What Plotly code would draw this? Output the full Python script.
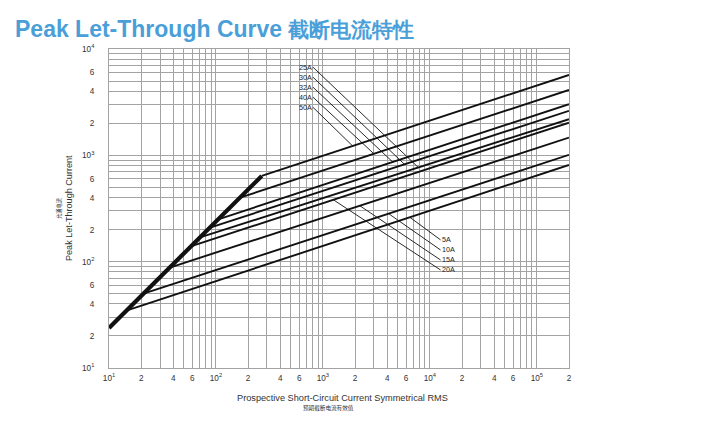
import math
import plotly.graph_objects as go

# ---------------- data ----------------
ratings = ["5A", "10A", "15A", "20A", "25A", "30A", "32A", "40A", "50A"]
# point where each branch leaves the common (thick) curve
branch_start_x = [15, 21, 37, 59, 71, 88, 105, 168, 268]
branch_start_y = [35, 50, 88, 140, 169, 209, 250, 400, 640]
# value at the right end of the chart (2x10^5 A)
branch_end_x = [2e5] * 9
branch_end_y = [813, 1010, 1470, 2030, 2190, 2620, 3030, 4120, 5700]

# common envelope (thick line)
envelope_x = [10, 268]
envelope_y = [23.8, 640]

# x value where each label's leader line touches its curve
leader_target_x = [6500, 4120, 2210, 1250, 7800, 5800, 4500, 3000, 1900]

# label anchor positions (log10 units)
top_labels = ["25A", "30A", "32A", "40A", "50A"]
top_label_logx = 2.907
top_label_logy = [3.829, 3.735, 3.641, 3.547, 3.452]
bottom_labels = ["5A", "10A", "15A", "20A"]
bottom_label_logx = 4.10
bottom_label_logy = [2.205, 2.110, 2.016, 1.922]

# tick labels
x_decades = [1, 2, 3, 4, 5]
y_decades = [1, 2, 3]
labelled_mults = [2, 4, 6]

# ---------------- figure ----------------
fig = go.Figure()

fig.add_trace(go.Scatter(x=envelope_x, y=envelope_y, mode="lines",
                         line=dict(color="#111111", width=4.2),
                         hoverinfo="skip", showlegend=False))

for i, r in enumerate(ratings):
    fig.add_trace(go.Scatter(x=[branch_start_x[i], branch_end_x[i]],
                             y=[branch_start_y[i], branch_end_y[i]],
                             mode="lines", name=r,
                             line=dict(color="#111111", width=1.9),
                             hoverinfo="skip", showlegend=False))


def curve_logy(i, x):
    lx0, lx1 = math.log10(branch_start_x[i]), math.log10(branch_end_x[i])
    ly0, ly1 = math.log10(branch_start_y[i]), math.log10(branch_end_y[i])
    t = (math.log10(x) - lx0) / (lx1 - lx0)
    return ly0 + t * (ly1 - ly0)


annotations = []
lab_font = dict(family="Liberation Sans, Arial", size=7.2, color="#222222")
for j, lab in enumerate(top_labels):
    i = ratings.index(lab)
    tx = leader_target_x[i]
    annotations.append(dict(
        x=math.log10(tx), y=curve_logy(i, tx), xref="x", yref="y",
        ax=top_label_logx, ay=top_label_logy[j], axref="x", ayref="y",
        text=lab, showarrow=True, arrowhead=0, arrowwidth=0.9,
        arrowcolor="#111111", xanchor="right", yanchor="middle",
        standoff=0, startstandoff=0, font=lab_font, borderpad=0))
for j, lab in enumerate(bottom_labels):
    i = ratings.index(lab)
    tx = leader_target_x[i]
    annotations.append(dict(
        x=math.log10(tx), y=curve_logy(i, tx), xref="x", yref="y",
        ax=bottom_label_logx, ay=bottom_label_logy[j], axref="x", ayref="y",
        text=lab, showarrow=True, arrowhead=0, arrowwidth=0.9,
        arrowcolor="#111111", xanchor="left", yanchor="middle",
        standoff=0, startstandoff=0, font=lab_font, borderpad=0))

txt = "#333333"
# axis titles
annotations += [
    dict(text="Prospective Short-Circuit Current Symmetrical RMS",
         xref="paper", yref="paper", x=0.508, y=-0.094, showarrow=False,
         font=dict(family="Liberation Sans, Arial", size=9.2, color=txt),
         xanchor="center", yanchor="middle"),
    dict(text="预期截断电流有效值",
         xref="paper", yref="paper", x=0.477, y=-0.124, showarrow=False,
         font=dict(family="Noto Sans CJK SC", size=5.6, color=txt),
         xanchor="center", yanchor="middle"),
    dict(text="Peak Let-Through Current", textangle=-90,
         xref="paper", yref="paper", x=-0.088, y=0.50, showarrow=False,
         font=dict(family="Liberation Sans, Arial", size=9.1, color=txt),
         xanchor="center", yanchor="middle"),
    dict(text="允通电流", textangle=-90,
         xref="paper", yref="paper", x=-0.11, y=0.50, showarrow=False,
         font=dict(family="Noto Sans CJK SC", size=5.2, color=txt),
         xanchor="center", yanchor="middle"),
]


def build_ticks(decades, last):
    vals, texts, minor = [], [], []
    for d in decades:
        for m in range(1, 10):
            v = m * 10 ** d
            if v > last:
                break
            if m == 1:
                vals.append(v)
                texts.append("10<sup>%d</sup>" % d)
            elif m in labelled_mults:
                vals.append(v)
                texts.append(str(m))
            else:
                minor.append(v)
    if last not in vals:
        vals.append(last)
        m = int(round(last / 10 ** int(math.log10(last))))
        texts.append("10<sup>%d</sup>" % int(math.log10(last)) if m == 1 else str(m))
    return vals, texts, minor


xv, xt, xm = build_ticks(x_decades, 2e5)
yv, yt, ym = build_ticks(y_decades, 1e4)

grid = "#a3a3a3"
tickfont = dict(family="Liberation Sans, Arial", size=8.2, color=txt)

fig.update_layout(
    width=707, height=432,
    margin=dict(l=101, r=146, t=41, b=72),
    paper_bgcolor="white", plot_bgcolor="white",
    title=dict(text="Peak Let-Through Curve <span style='font-size:20.5px'>截断电流特性</span>",
               font=dict(family="Liberation Sans, Arial", size=23,
                         color="#4a9fd9", weight="bold"),
               x=7 / 707, xanchor="left", xref="container",
               y=1 - 21 / 432, yanchor="middle", yref="container"),
    xaxis=dict(type="log", range=[1, math.log10(2e5)],
               tickvals=xv, ticktext=xt, tickfont=tickfont,
               showgrid=True, gridcolor=grid, gridwidth=1,
               ticks="outside", ticklen=2, tickcolor="rgba(0,0,0,0)",
               minor=dict(tickvals=xm, showgrid=True, gridcolor=grid,
                          gridwidth=1, ticks=""),
               showline=True, linecolor=grid, linewidth=1, mirror=True,
               zeroline=False),
    yaxis=dict(type="log", range=[1, 4],
               tickvals=yv, ticktext=yt, tickfont=tickfont,
               showgrid=True, gridcolor=grid, gridwidth=1,
               ticks="outside", ticklen=12, tickcolor="rgba(0,0,0,0)",
               minor=dict(tickvals=ym, showgrid=True, gridcolor=grid,
                          gridwidth=1, ticks=""),
               showline=True, linecolor=grid, linewidth=1, mirror=True,
               zeroline=False),
    annotations=annotations,
    showlegend=False,
)

fig.write_html("out.html")
